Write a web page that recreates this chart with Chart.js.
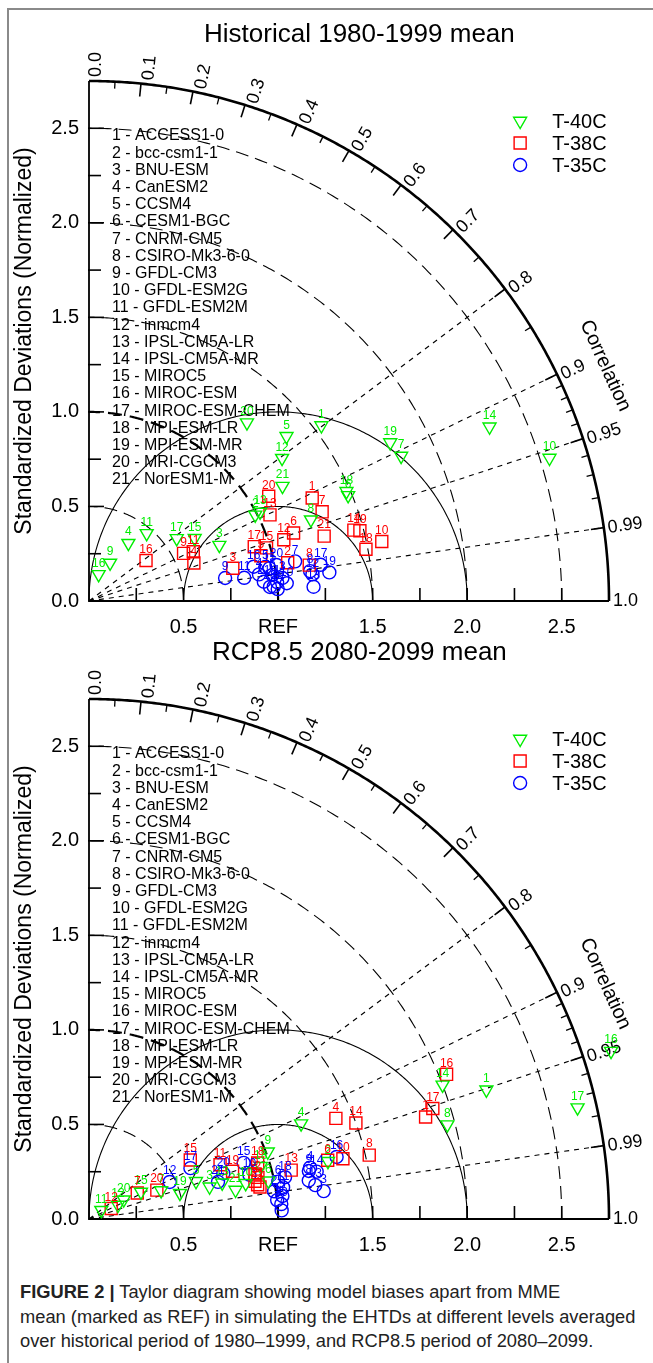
<!DOCTYPE html>
<html><head><meta charset="utf-8">
<script src="https://cdn.jsdelivr.net/npm/chart.js@4.4.1/dist/chart.umd.min.js"></script>
<style>
html,body{margin:0;padding:0;background:#fff;}
body{width:653px;height:1363px;position:relative;overflow:hidden;font-family:"Liberation Sans",Arial,sans-serif;}
#frameL{position:absolute;left:7px;top:8px;width:1.5px;height:1355px;background:#8a8a8a;}
#frameT{position:absolute;left:7px;top:8px;width:646px;height:1.5px;background:#8a8a8a;}
.wrap{position:absolute;left:0;width:653px;}
#w1{top:0;height:640px;}
#w2{top:640px;height:620px;}
#caption{position:absolute;left:20px;top:1280px;width:630px;font-size:18.3px;line-height:24.5px;color:#222;white-space:nowrap;}
#caption b{font-weight:bold;}
</style></head>
<body>
<div id="frameL"></div><div id="frameT"></div>
<div class="wrap" id="w1"><canvas id="c1"></canvas></div>
<div class="wrap" id="w2"><canvas id="c2"></canvas></div>
<div id="caption"><b>FIGURE 2 |</b> Taylor diagram showing model biases apart from MME<br>mean (marked as REF) in simulating the EHTDs at different levels averaged<br>over historical period of 1980–1999, and RCP8.5 period of 2080–2099.</div>
<script>
// ---------------- data ----------------
const MODELS = ["ACCESS1-0","bcc-csm1-1","BNU-ESM","CanESM2","CCSM4","CESM1-BGC","CNRM-CM5","CSIRO-Mk3-6-0","GFDL-CM3","GFDL-ESM2G","GFDL-ESM2M","inmcm4","IPSL-CM5A-LR","IPSL-CM5A-MR","MIROC5","MIROC-ESM","MIROC-ESM-CHEM","MPI-ESM-LR","MPI-ESM-MR","MRI-CGCM3","NorESM1-M"];
const SERIES = ["T-40C","T-38C","T-35C"];
const TITLES = ["Historical 1980-1999 mean","RCP8.5 2080-2099 mean"];
const STD_TICKS = [0.5,1.0,1.5,2.0,2.5];
const STD_TICK_LABELS = ["0.5","REF","1.5","2.0","2.5"];
const Y_TICK_LABELS = ["0.0","0.5","1.0","1.5","2.0","2.5"];
const COR_MAJOR = [0.0,0.1,0.2,0.3,0.4,0.5,0.6,0.7,0.8,0.9,0.95,0.99,1.0];
const COR_MAJOR_LABELS = ["0.0","0.1","0.2","0.3","0.4","0.5","0.6","0.7","0.8","0.9","0.95","0.99","1.0"];
const COR_MINOR = [0.05,0.15,0.25,0.35,0.45,0.55,0.65,0.75,0.85,0.91,0.92,0.93,0.94,0.96,0.97,0.98];
const COR_LINES = [0.8,0.9,0.95,0.99];
const STD_ARCS = [0.5,1.0,1.5,2.0,2.5];
const RMS_ARCS = [0.5,1.0];

// Historical 1980-1999: normalized standard deviation and correlation, models 1..21
const HIST_T40_STD = [1.54,0.99,0.75,0.37,1.36,1.48,1.82,1.25,0.23,2.55,0.47,1.27,1.02,2.31,0.65,0.15,0.57,1.48,1.80,1.26,1.19];
const HIST_T40_COR = [0.798,0.888,0.919,0.563,0.768,0.926,0.907,0.939,0.485,0.955,0.649,0.804,0.887,0.917,0.860,0.34,0.814,0.920,0.885,0.663,0.860];
const HIST_T38_STD = [1.30,1.07,0.78,0.59,0.94,1.14,1.32,1.18,0.56,1.58,0.61,1.08,1.06,1.45,0.98,0.37,0.92,1.49,1.48,1.10,1.29];
const HIST_T38_COR = [0.908,0.982,0.975,0.940,0.967,0.949,0.934,0.987,0.893,0.980,0.904,0.954,0.903,0.966,0.958,0.815,0.950,0.983,0.968,0.864,0.964];
const HIST_T35_STD = [1.00,0.98,1.03,0.91,0.95,0.98,1.11,1.18,0.73,1.05,0.83,1.19,1.19,1.00,0.97,0.89,1.24,0.96,1.28,1.01,0.93];
const HIST_T35_COR = [0.995,0.997,0.993,0.988,0.982,0.990,0.982,0.991,0.986,0.996,0.989,0.993,0.998,0.998,0.984,0.979,0.988,0.997,0.993,0.982,0.994];
// RCP8.5 2080-2099
const RCP_T40_STD = [2.21,1.30,0.66,1.23,0.60,0.97,0.41,1.96,1.01,0.85,0.08,0.17,0.73,2.00,0.31,2.90,2.65,0.95,0.50,0.21,0.79];
const RCP_T40_COR = [0.951,0.972,0.966,0.912,0.943,0.978,0.930,0.967,0.936,0.975,0.813,0.900,0.965,0.935,0.887,0.952,0.975,0.956,0.962,0.874,0.981];
const RCP_T38_STD = [1.86,0.92,0.92,1.41,0.90,1.30,0.29,1.52,0.91,1.38,0.75,0.13,1.10,1.50,0.62,2.04,1.91,0.94,0.80,0.39,0.91];
const RCP_T38_COR = [0.957,0.971,0.983,0.926,0.975,0.971,0.880,0.975,0.965,0.973,0.924,0.903,0.972,0.941,0.864,0.927,0.952,0.949,0.949,0.920,0.980];
const RCP_T35_STD = [1.00,0.99,1.25,1.20,1.03,1.02,1.02,1.18,1.19,0.88,1.04,0.47,1.21,1.23,0.87,1.35,0.60,1.06,1.02,0.75,0.71];
const RCP_T35_COR = [0.995,0.989,0.993,0.974,0.993,0.981,0.999,0.985,0.977,0.964,0.987,0.909,0.989,0.979,0.940,0.970,0.894,0.978,0.997,0.947,0.961];

// ---------------- styling ----------------
const COLORS = ["#00ee00","#ff0000","#0000ff"];
const STYLES = [{pointStyle:"triangle",rotation:180,radius:7.5},{pointStyle:"rect",rotation:0,radius:8.5},{pointStyle:"circle",rotation:0,radius:6.5}];
const FONT = '"Liberation Sans", Arial, sans-serif';
const RMAX = 2.75;

function toXY(stds, cors){
  return stds.map((s,i)=>({x:s*cors[i], y:s*Math.sqrt(Math.max(0,1-cors[i]*cors[i])), id:i+1}));
}

function taylorPlugin(title){
  return {
    id:"taylor",
    beforeDatasetsDraw(chart){
      const ctx = chart.ctx, xs = chart.scales.x, ys = chart.scales.y;
      const X = v=>xs.getPixelForValue(v), Y = v=>ys.getPixelForValue(v);
      const P = (r,c)=>[X(r*c), Y(r*Math.sqrt(Math.max(0,1-c*c)))];
      const u = X(1)-X(0);
      const ox = X(0), oy = Y(0);
      ctx.save();
      ctx.strokeStyle="#000"; ctx.fillStyle="#000"; ctx.lineCap="butt";
      // correlation rays
      ctx.lineWidth=1.1; ctx.setLineDash([5,5]);
      COR_LINES.forEach(c=>{ const p=P(RMAX,c); ctx.beginPath(); ctx.moveTo(ox,oy); ctx.lineTo(p[0],p[1]); ctx.stroke(); });
      // std-dev arcs about origin
      STD_ARCS.forEach(r=>{
        ctx.lineWidth = r===1?2.2:1.1; ctx.setLineDash(r===1?[14,8]:[13,7]);
        ctx.beginPath();
        for(let i=0;i<=200;i++){const a=i/200*Math.PI/2; const px=X(r*Math.cos(a)), py=Y(r*Math.sin(a)); i?ctx.lineTo(px,py):ctx.moveTo(px,py);}
        ctx.stroke();
      });
      // RMS circles about REF
      ctx.setLineDash([]); ctx.lineWidth=1.1;
      RMS_ARCS.forEach(r=>{
        ctx.beginPath();
        for(let i=0;i<=240;i++){const a=i/240*Math.PI; const px=X(1+r*Math.cos(a)), py=Y(r*Math.sin(a)); i?ctx.lineTo(px,py):ctx.moveTo(px,py);}
        ctx.stroke();
      });
      // outer arc
      ctx.lineWidth=2.6; ctx.beginPath();
      for(let i=0;i<=300;i++){const a=i/300*Math.PI/2; const px=X(RMAX*Math.cos(a)), py=Y(RMAX*Math.sin(a)); i?ctx.lineTo(px,py):ctx.moveTo(px,py);}
      ctx.stroke();
      // axes
      ctx.lineWidth=1.8; ctx.beginPath(); ctx.moveTo(ox,Y(RMAX)); ctx.lineTo(ox,oy); ctx.lineTo(X(RMAX),oy); ctx.stroke();
      // axis ticks
      ctx.lineWidth=1.6;
      for(let k=1;k<=10;k++){ const v=k*0.25; ctx.beginPath(); ctx.moveTo(X(v),oy); ctx.lineTo(X(v),oy-13); ctx.stroke();
        const L = (k%2===0)?15:12; ctx.beginPath(); ctx.moveTo(ox-1,Y(v)); ctx.lineTo(ox+L,Y(v)); ctx.stroke(); }
      // correlation ticks
      COR_MAJOR.slice(1,-1).forEach(c=>{const a=P(RMAX,c), b=P(RMAX-13/u,c); ctx.beginPath(); ctx.moveTo(a[0],a[1]); ctx.lineTo(b[0],b[1]); ctx.stroke();});
      ctx.lineWidth=1.3;
      COR_MINOR.forEach(c=>{const a=P(RMAX,c), b=P(RMAX-7/u,c); ctx.beginPath(); ctx.moveTo(a[0],a[1]); ctx.lineTo(b[0],b[1]); ctx.stroke();});
      // correlation labels
      ctx.font = "18px "+FONT; ctx.textAlign="left"; ctx.textBaseline="middle";
      COR_MAJOR.forEach((c,i)=>{
        const phi = Math.acos(c); const p=P(RMAX,c);
        ctx.save(); ctx.translate(p[0],p[1]); ctx.rotate(-phi);
        ctx.fillText(COR_MAJOR_LABELS[i], 4, 7*Math.sin(phi)); ctx.restore();
      });
      // "Correlation" label
      { const c=0.91, phi=Math.acos(c); const p=P(3.0,c);
        ctx.save(); ctx.translate(p[0],p[1]); ctx.rotate(Math.PI/2-phi); ctx.font="20px "+FONT; ctx.textAlign="center";
        ctx.fillText("Correlation",0,0); ctx.restore(); }
      // axis tick labels
      ctx.font="20px "+FONT; ctx.textAlign="center"; ctx.textBaseline="middle";
      STD_TICKS.forEach((v,i)=>ctx.fillText(STD_TICK_LABELS[i], X(v), oy+26));
      ctx.textAlign="right";
      Y_TICK_LABELS.forEach((t,i)=>ctx.fillText(t, ox-10, Y(i*0.5)));
      // y-axis title
      ctx.save(); ctx.translate(ox-64,(Y(0)+Y(RMAX))/2); ctx.rotate(-Math.PI/2);
      ctx.textAlign="center"; ctx.font="23px "+FONT; ctx.fillText("Standardized Deviations (Normalized)",0,0); ctx.restore();
      // title
      ctx.font="26px "+FONT; ctx.textAlign="center"; ctx.fillText(title, X(1.43), Y(RMAX)-46);
      // model list
      ctx.font="16px "+FONT; ctx.textAlign="left";
      MODELS.forEach((m,i)=>ctx.fillText((i+1)+" - "+m, ox+23, Y(RMAX)+55+i*17.2));
      // legend
      SERIES.forEach((s,i)=>{
        const ly = Y(RMAX)+40+i*22, lx = X(2.28);
        ctx.fillStyle="#000"; ctx.font="20px "+FONT; ctx.textAlign="left"; ctx.fillText(s, lx+32, ly+1);
        ctx.fillStyle="rgba(0,0,0,0)"; ctx.strokeStyle=COLORS[i]; ctx.lineWidth=1.4;
        Chart.helpers.drawPoint(ctx,{pointStyle:STYLES[i].pointStyle, rotation:STYLES[i].rotation, radius:STYLES[i].radius, borderWidth:1.4},lx,ly);
        ctx.strokeStyle="#000";
      });
      ctx.restore();
    },
    afterDatasetsDraw(chart){
      const ctx=chart.ctx; ctx.save();
      ctx.font="12px "+FONT; ctx.textAlign="center"; ctx.textBaseline="bottom";
      chart.data.datasets.forEach((ds,di)=>{
        const meta=chart.getDatasetMeta(di); ctx.fillStyle=COLORS[di];
        meta.data.forEach((el,j)=>{ ctx.fillText(String(ds.data[j].id), el.x, el.y-5); });
      });
      ctx.restore();
    }
  };
}

function makeChart(id, title, sets, pad){
  const datasets = sets.map((s,i)=>({
    label: SERIES[i], data: toXY(s[0],s[1]),
    pointStyle: STYLES[i].pointStyle, rotation: STYLES[i].rotation, pointRadius: STYLES[i].radius,
    borderColor: COLORS[i], backgroundColor: "rgba(0,0,0,0)", pointBorderWidth: 1.4, showLine:false, clip:false
  }));
  return new Chart(document.getElementById(id), {
    type:"scatter",
    data:{datasets},
    options:{
      responsive:true, maintainAspectRatio:false, animation:false, events:[], devicePixelRatio:1,
      layout:{padding:pad},
      plugins:{legend:{display:false}, tooltip:{enabled:false}, title:{display:false}},
      scales:{
        x:{type:"linear",min:0,max:RMAX,display:false},
        y:{type:"linear",min:0,max:RMAX,display:false}
      }
    },
    plugins:[taylorPlugin(title)]
  });
}

makeChart("c1", TITLES[0], [[HIST_T40_STD,HIST_T40_COR],[HIST_T38_STD,HIST_T38_COR],[HIST_T35_STD,HIST_T35_COR]], {left:89,right:44,top:81,bottom:39});
makeChart("c2", TITLES[1], [[RCP_T40_STD,RCP_T40_COR],[RCP_T38_STD,RCP_T38_COR],[RCP_T35_STD,RCP_T35_COR]], {left:89,right:44,top:59,bottom:41});
</script>
</body></html>
